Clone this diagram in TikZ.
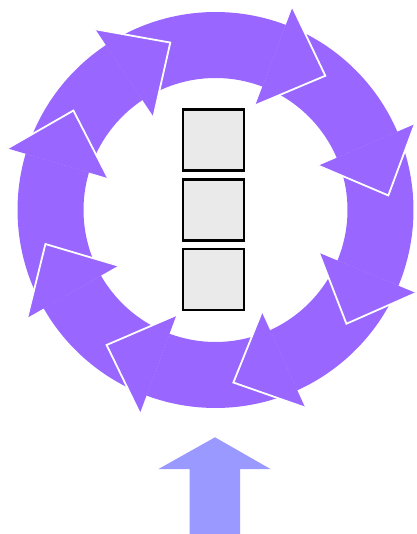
\documentclass[tikz,border=0pt]{standalone}
\usetikzlibrary{calc}
\definecolor{ringpurple}{HTML}{9966FF}
\definecolor{feedblue}{HTML}{9999FF}
\definecolor{boxgray}{HTML}{EAEAEA}

\begin{document}
\begin{tikzpicture}[
    x=1pt, y=1pt,
    ring body/.style={fill=ringpurple},
    ring head/.style={fill=ringpurple, draw=white, line width=1.8pt, line join=miter},
    box node/.style={rectangle, draw=black, fill=boxgray, line width=2.5pt, inner sep=0pt, minimum size=61pt},
    feed arrow/.style={fill=feedblue}
]
\useasboundingbox (-215.5,-324) rectangle (200.5,210);

% 环形箭头的弧形主体
\foreach \a/\b in {123.6/69.2, 69.2/23.3, 23.3/-22.5, -22.5/-65.6, -65.6/-110.4, -110.4/-150.2, -150.2/-196.5, -196.5/-236.4}
  \fill[ring body] (\a:198pt) arc[start angle=\a, end angle=\b, radius=198pt] -- (\b:132pt) arc[start angle=\b, end angle=\a, radius=132pt] -- cycle;

% 箭头头部 (白边只画两条斜边)
\foreach \b in {69.2, 23.3, -22.5, -65.6, -110.4, -150.2, 163.5, 123.6}
  \path[ring head] (\b:217pt) -- ($(\b:164.5pt)+({\b-90}:55pt)$) -- (\b:112pt);

% 中间三个方块
\node[box node] (B1) at (-2.2, 70) {};
\node[box node] (B2) at (-2.2, 0) {};
\node[box node] (B3) at (-2.2, -69.5) {};

% 底部输入箭头
\fill[feed arrow] (-26,-324) -- (-26,-259) -- (-57,-259) -- (-0.5,-227.3) -- (55,-259) -- (24.5,-259) -- (24.5,-324) -- cycle;

\end{tikzpicture}
\end{document}
